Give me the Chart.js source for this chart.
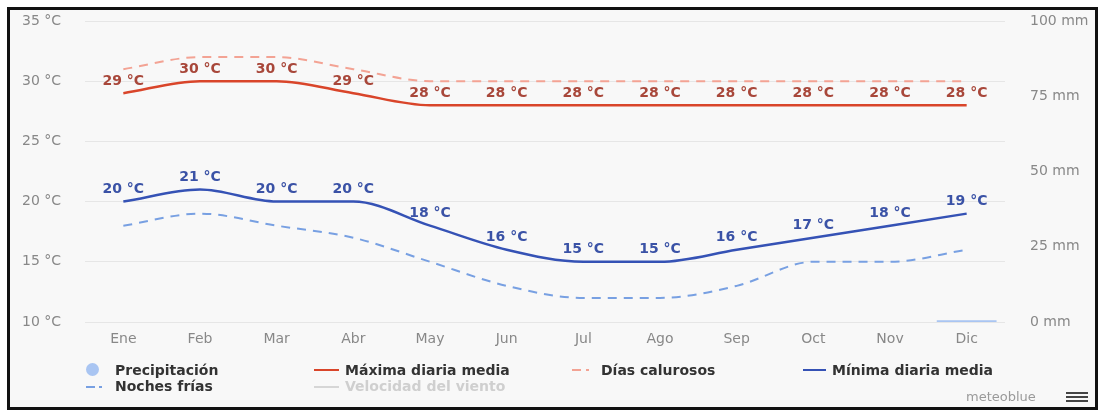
<!DOCTYPE html>
<html>
<head>
<meta charset="utf-8">
<script src="https://cdn.jsdelivr.net/npm/chart.js@4.4.0/dist/chart.umd.min.js"></script>
<style>
  body { margin: 0; background: #ffffff; font-family: "DejaVu Sans", sans-serif; }
  #frame {
    position: absolute; left: 7px; top: 7px; width: 1085px; height: 397px;
    border: 3px solid #111; background: #f8f8f8;
  }
  #chart { position: absolute; left: 0; top: 0; }
  .leg { position: absolute; font-size: 14px; font-weight: bold; color: #333; white-space: nowrap; line-height: 16px; }
  .mk { position: absolute; }
  .bar { position: absolute; left: 1066px; width: 22px; height: 2px; background: #444; }
</style>
</head>
<body>
<div id="frame">
  <canvas id="chart" width="1085" height="397"></canvas>
</div>
<script>
// Valores
const meses = ['Ene', 'Feb', 'Mar', 'Abr', 'May', 'Jun', 'Jul', 'Ago', 'Sep', 'Oct', 'Nov', 'Dic'];
const maxima = [29, 30, 30, 29, 28, 28, 28, 28, 28, 28, 28, 28];
const calurosos = [31, 32, 32, 31, 30, 30, 30, 30, 30, 30, 30, 30];
const minima = [20, 21, 20, 20, 18, 16, 15, 15, 16, 17, 18, 19];
const frias = [18, 19, 18, 17, 15, 13, 12, 12, 13, 15, 15, 16];
const precipitacion = [0, 0, 0, 0, 0, 0, 0, 0, 0, 0, 0, 0.6];
const ticksTemp = [10, 15, 20, 25, 30, 35];
const ticksMm = [0, 25, 50, 75, 100];

// Etiquetas de valores encima de los puntos
const etiquetas = {
    id: 'etiquetas',
    afterDatasetsDraw(chart) {
        const ctx = chart.ctx;
        chart.data.datasets.forEach((ds, i) => {
            if (!ds.labelColor) return;
            const meta = chart.getDatasetMeta(i);
            ctx.save();
            ctx.font = 'bold 14px "DejaVu Sans"';
            ctx.fillStyle = ds.labelColor;
            ctx.textAlign = 'center';
            ctx.textBaseline = 'middle';
            meta.data.forEach((pt, j) => {
                ctx.fillText(ds.data[j] + ' °C', pt.x, pt.y - 12);
            });
            ctx.restore();
        });
    }
};

new Chart(document.getElementById('chart'), {
    data: {
        labels: meses,
        datasets: [
            {
                type: 'line', label: 'Máxima diaria media', data: maxima, yAxisID: 'y',
                borderColor: '#d9452a', borderWidth: 2.5, pointRadius: 0,
                cubicInterpolationMode: 'monotone', labelColor: '#a8473a', order: 1
            },
            {
                type: 'line', label: 'Días calurosos', data: calurosos, yAxisID: 'y',
                borderColor: '#f3a394', borderWidth: 2, borderDash: [9, 7], pointRadius: 0,
                cubicInterpolationMode: 'monotone', order: 2
            },
            {
                type: 'line', label: 'Mínima diaria media', data: minima, yAxisID: 'y',
                borderColor: '#3552b5', borderWidth: 2.5, pointRadius: 0,
                cubicInterpolationMode: 'monotone', labelColor: '#3a52a6', order: 1
            },
            {
                type: 'line', label: 'Noches frías', data: frias, yAxisID: 'y',
                borderColor: '#78a0e2', borderWidth: 2, borderDash: [9, 7], pointRadius: 0,
                cubicInterpolationMode: 'monotone', order: 2
            },
            {
                type: 'bar', label: 'Precipitación', data: precipitacion, yAxisID: 'y2',
                backgroundColor: '#a9c5f2', categoryPercentage: 1, barPercentage: 0.78, order: 3
            }
        ]
    },
    options: {
        responsive: false,
        animation: false,
        layout: { padding: { left: 12, right: 0, top: 11, bottom: 52 } },
        plugins: { legend: { display: false }, tooltip: { enabled: false } },
        scales: {
            x: {
                offset: true,
                grid: { display: false, drawTicks: false },
                border: { display: false },
                ticks: { color: '#888', font: { family: 'DejaVu Sans', size: 14 }, padding: 9 },
                afterFit(s) { s.height = 33; }
            },
            y: {
                position: 'left', min: 10, max: 35,
                afterBuildTicks(s) { s.ticks = ticksTemp.map(v => ({ value: v })); },
                grid: { color: '#e6e6e6', drawTicks: false },
                border: { display: false },
                ticks: {
                    color: '#888', font: { family: 'DejaVu Sans', size: 14 }, crossAlign: 'far',
                    callback: v => v + ' °C'
                },
                afterFit(s) { s.width = 63; s.paddingTop = 0; s.paddingBottom = 0; }
            },
            y2: {
                position: 'right', min: 0, max: 100,
                afterBuildTicks(s) { s.ticks = ticksMm.map(v => ({ value: v })); },
                grid: { display: false, drawTicks: false },
                border: { display: false },
                ticks: {
                    color: '#888', font: { family: 'DejaVu Sans', size: 14 }, padding: 25,
                    callback: v => v + ' mm'
                },
                afterFit(s) { s.width = 90; s.paddingTop = 0; s.paddingBottom = 0; }
            }
        }
    },
    plugins: [etiquetas]
});
</script>
<div id="legend">
  <span class="mk" style="left:86px;top:363px;width:13px;height:13px;border-radius:50%;background:#a9c5f2;"></span>
  <span class="leg" style="left:115px;top:362px;">Precipitación</span>
  <span class="mk" style="left:86px;top:386px;width:9px;height:2px;background:#78a0e2;"></span>
  <span class="mk" style="left:99px;top:386px;width:3px;height:2px;background:#78a0e2;"></span>
  <span class="leg" style="left:115px;top:378px;">Noches frías</span>

  <span class="mk" style="left:314px;top:369px;width:25px;height:2px;background:#d9452a;"></span>
  <span class="leg" style="left:345px;top:362px;">Máxima diaria media</span>
  <span class="mk" style="left:314px;top:386px;width:25px;height:2px;background:#d6d6d6;"></span>
  <span class="leg" style="left:345px;top:378px;color:#cfcfcf;">Velocidad del viento</span>

  <span class="mk" style="left:572px;top:369px;width:9px;height:2px;background:#f3a394;"></span>
  <span class="mk" style="left:586px;top:369px;width:3px;height:2px;background:#f3a394;"></span>
  <span class="leg" style="left:601px;top:362px;">Días calurosos</span>

  <span class="mk" style="left:803px;top:369px;width:23px;height:2px;background:#3552b5;"></span>
  <span class="leg" style="left:832px;top:362px;">Mínima diaria media</span>
</div>
<div style="position:absolute;left:966px;top:389px;font-size:13px;color:#9a9a9a;">meteoblue</div>
<div class="bar" style="top:392px;"></div>
<div class="bar" style="top:396px;"></div>
<div class="bar" style="top:400px;"></div>
</body>
</html>
